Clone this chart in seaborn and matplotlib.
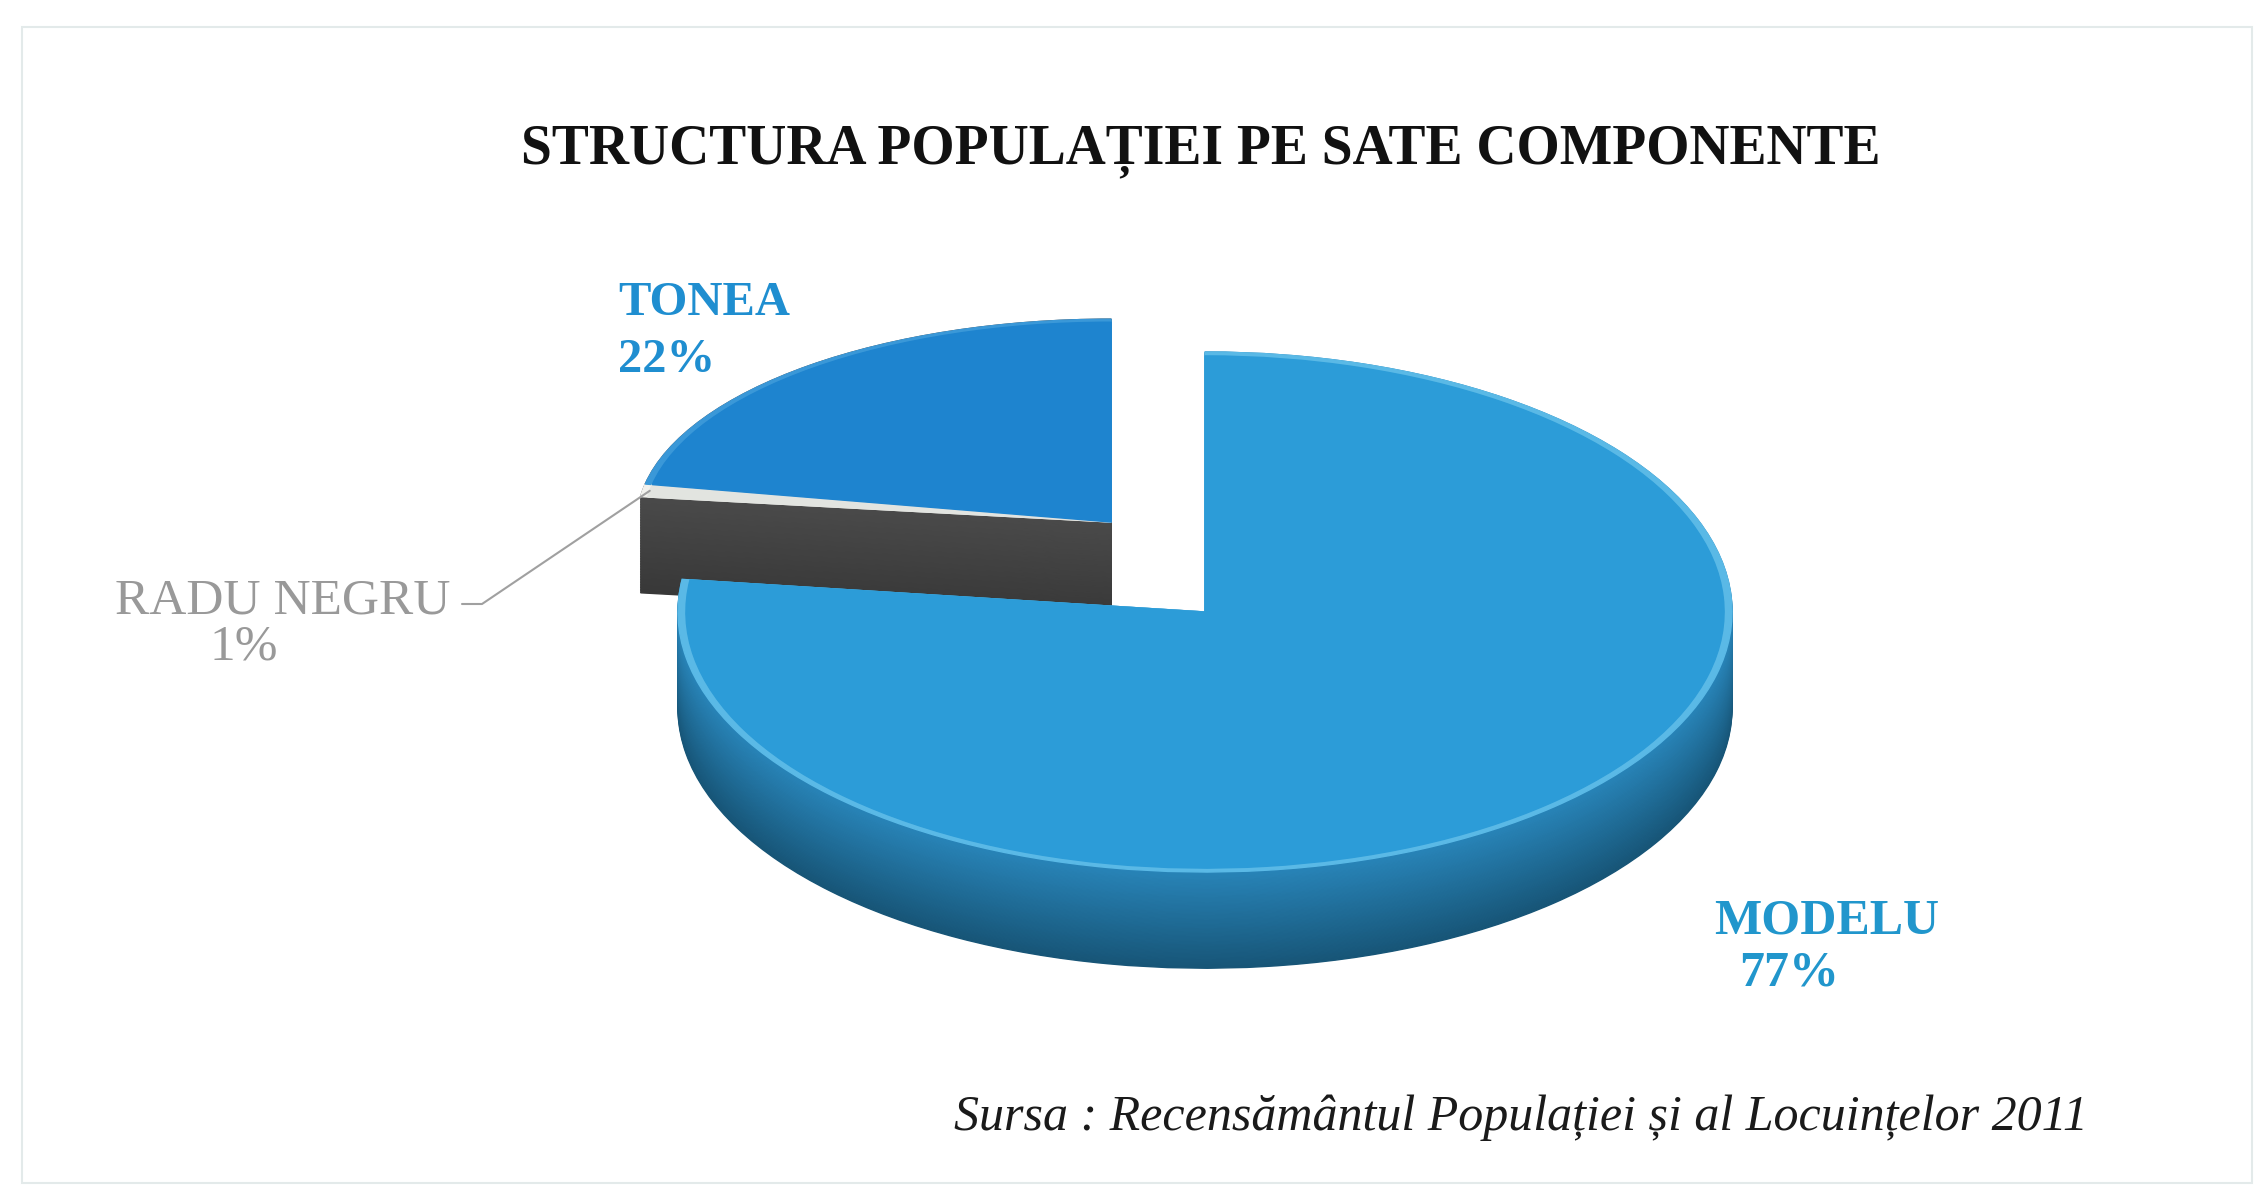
import numpy as np
import matplotlib
matplotlib.use("Agg")
import matplotlib.pyplot as plt
import seaborn as sns
from matplotlib.colors import to_rgb
from matplotlib.patches import Rectangle
from matplotlib.transforms import Affine2D

# ==========================================
# DATA
# ==========================================
villages = ["MODELU", "RADU NEGRU", "TONEA"]
shares = [77, 1, 22]
title = "STRUCTURA POPULAȚIEI PE SATE COMPONENTE"
source = "Sursa : Recensământul Populației și al Locuințelor 2011"

# ==========================================
# LAYOUT (pixels on the 2263 x 1186 canvas)
# ==========================================
W, H = 2263, 1186
CX, CY = 1205, 612          # centre of the pie top
RX, RY = 527, 260           # half axes of the tilted pie
DEPTH = 0.37                # thickness, in vertical radius units
N_LAYERS = 60
GROUP_SHIFT = (-0.178, 0.346)  # RADU NEGRU + TONEA pulled out together
GROUP_RADIUS = 0.90            # back pieces look smaller ...
GROUP_SQUASH = 0.867           # ... and flatter (perspective)

top_colors = ["#2c9cd8", "#e2e4e0", "#1e84cf"]
rim_colors = ["#5ab9e6", "#f2f2ee", "#3a98d8"]
# TONEA's outer wall faces away, so only the dark radial face shows
side_low = ["#175577", "#383838", "#383838"]
side_high = ["#2884b8", "#4a4a4a", "#4a4a4a"]
label_colors = ["#2196cc", "#999999", "#1f8ed0"]
label_weight = ["bold", "normal", "bold"]
label_size = [36, 37, 35]
# (name x, name baseline y, pct x, pct baseline y)
label_pos = [(1714, 934, 1739, 986),
             (115, 613, 209, 660),
             (618, 315, 618, 372)]


def px(x, y):
    """pixel (from top-left) -> data units of the pie axes"""
    return (x - CX) / RX, (CY - y) / RY


def mix(c1, c2, t):
    a, b = np.array(to_rgb(c1)), np.array(to_rgb(c2))
    return tuple(a + (b - a) * t)


def draw_pie(ax, z, colors, shrink=1.0):
    wedges, _ = ax.pie(shares, colors=colors, startangle=90, counterclock=False,
                       radius=shrink, center=(0, z))
    squash = Affine2D().scale(1, GROUP_SQUASH) + ax.transData
    for i, w in enumerate(wedges):
        w.set_edgecolor(w.get_facecolor())
        w.set_linewidth(1.0)
        if i > 0:
            w.set_center((GROUP_SHIFT[0], (GROUP_SHIFT[1] + z) / GROUP_SQUASH))
            w.set_radius(GROUP_RADIUS * shrink)
            w.set_transform(squash)
    return wedges


sns.set_theme(style="white")
plt.rcParams["font.family"] = ["Liberation Serif", "DejaVu Serif"]

fig = plt.figure(figsize=(W / 100, H / 100), dpi=100)
fig.patch.set_facecolor("white")
ax = fig.add_axes([0, 0, 1, 1])

# side walls: stacked layers from the bottom up
for k, z in enumerate(np.linspace(-DEPTH, 0, N_LAYERS)):
    t = k / (N_LAYERS - 1)
    draw_pie(ax, z, [mix(lo, hi, t) for lo, hi in zip(side_low, side_high)])

# top faces with a light rim
draw_pie(ax, 0, rim_colors)
top = draw_pie(ax, 0, top_colors, shrink=0.985)

ax.set_aspect("auto")
ax.set_xlim(-CX / RX, (W - CX) / RX)
ax.set_ylim((CY - H) / RY, CY / RY)
ax.axis("off")

# labels
for name, s, col, wt, fs, (nx, ny, tx, ty) in zip(villages, shares, label_colors,
                                                    label_weight, label_size, label_pos):
    fig.text(nx / W, 1 - ny / H, name, color=col, fontsize=fs, fontweight=wt,
             ha="left", va="baseline")
    fig.text(tx / W, 1 - ty / H, f"{s}%", color=col, fontsize=fs, fontweight=wt,
             ha="left", va="baseline")

# leader line for the tiny slice
w = top[1]
mid = np.deg2rad((w.theta1 + w.theta2) / 2)
tip = (w.center[0] + w.r * np.cos(mid),
       (w.center[1] + w.r * np.sin(mid)) * GROUP_SQUASH)
a = px(462, 604)
b = px(482, 604)
ax.plot([a[0], b[0], tip[0]], [a[1], b[1], tip[1]], color="#a0a0a0", lw=1.5)

fig.text(1201 / W, 1 - 163 / H, title, fontsize=40, fontweight="bold",
         color="#111111", ha="center", va="baseline")
fig.text(2088 / W, 1 - 1130 / H, source, fontsize=36, fontstyle="italic",
         color="#1a1a1a", ha="right", va="baseline")

# faint scan frame
fig.add_artist(Rectangle((22 / W, 1 - 1183 / H), (2252 - 22) / W, (1183 - 27) / H,
                         transform=fig.transFigure, fill=False,
                         edgecolor="#e3eaea", lw=1.5))

fig.savefig("out.png", dpi=100, facecolor="white")
